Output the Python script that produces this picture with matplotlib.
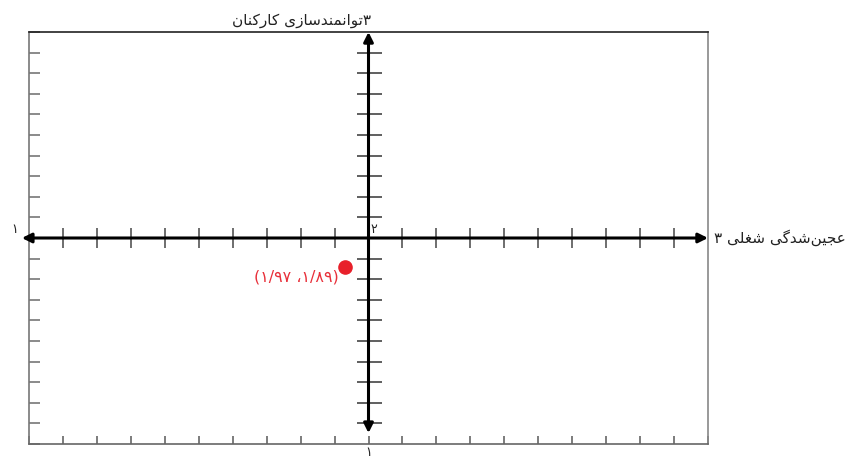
import numpy as np
import matplotlib.pyplot as plt

# data
x_min, x_mid, x_max = 1.0, 2.0, 3.0
y_min, y_mid, y_max = 1.0, 2.0, 3.0
step = 0.1
point_x = [1.93]
point_y = [1.86]
point_label = '(۱/۹۷ ،۱/۸۹)'
x_title = 'عجین‌شدگی شغلی ۳'
y_title = '۳توانمندسازی کارکنان'
left_label = '۱'
bottom_label = '۱'
mid_label = '۲'

# presentation forms: isolated, final, initial, medial
FORMS = {
    'ا': ('\uFE8D', '\uFE8E', None, None),
    'ت': ('\uFE95', '\uFE96', '\uFE97', '\uFE98'),
    'ج': ('\uFE9D', '\uFE9E', '\uFE9F', '\uFEA0'),
    'د': ('\uFEA9', '\uFEAA', None, None),
    'ر': ('\uFEAD', '\uFEAE', None, None),
    'ز': ('\uFEAF', '\uFEB0', None, None),
    'س': ('\uFEB1', '\uFEB2', '\uFEB3', '\uFEB4'),
    'ش': ('\uFEB5', '\uFEB6', '\uFEB7', '\uFEB8'),
    'ع': ('\uFEC9', '\uFECA', '\uFECB', '\uFECC'),
    'غ': ('\uFECD', '\uFECE', '\uFECF', '\uFED0'),
    'ل': ('\uFEDD', '\uFEDE', '\uFEDF', '\uFEE0'),
    'م': ('\uFEE1', '\uFEE2', '\uFEE3', '\uFEE4'),
    'ن': ('\uFEE5', '\uFEE6', '\uFEE7', '\uFEE8'),
    'و': ('\uFEED', '\uFEEE', None, None),
    'ک': ('\uFB8E', '\uFB8F', '\uFB90', '\uFB91'),
    'گ': ('\uFB92', '\uFB93', '\uFB94', '\uFB95'),
    'ی': ('\uFBFC', '\uFBFD', '\uFBFE', '\uFBFF'),
}


def shape(text):
    # join letters and flip to visual order (matplotlib has no bidi)
    out = []
    for i, c in enumerate(text):
        if c not in FORMS:
            out.append(c)
            continue
        prev = text[i - 1] if i > 0 else None
        nxt = text[i + 1] if i < len(text) - 1 else None
        join_prev = prev in FORMS and FORMS[prev][2] is not None
        join_next = FORMS[c][2] is not None and nxt in FORMS
        iso, fin, ini, med = FORMS[c]
        if join_prev and join_next:
            out.append(med)
        elif join_prev:
            out.append(fin)
        elif join_next:
            out.append(ini)
        else:
            out.append(iso)
    return ''.join(ch for ch in reversed(out) if ch != '\u200c')


plt.rcParams['font.family'] = ['DejaVu Sans']

fig = plt.figure(figsize=(8.53, 4.59), dpi=100)
ax = fig.add_axes([29 / 853, 15 / 459, 679 / 853, 412 / 459])
ax.set_xlim(x_min, x_max)
ax.set_ylim(y_min, y_max)

for side, col in [('left', '#777777'), ('bottom', '#666666'),
                  ('right', '#888888'), ('top', '#222222')]:
    ax.spines[side].set_color(col)
    ax.spines[side].set_linewidth(1.2)

xt = np.round(np.arange(x_min, x_max + step / 2, step), 2)
yt = np.round(np.arange(y_min, y_max + step / 2, step), 2)
ax.set_xticks(xt)
ax.set_yticks(yt)
ax.set_xticklabels([])
ax.set_yticklabels([])
ax.tick_params(axis='x', direction='in', length=6, width=1.2, color='#666666',
               bottom=True, top=False)
ax.tick_params(axis='y', direction='in', length=8, width=1.2, color='#777777',
               left=True, right=False)

# middle axes with arrows
ax.annotate('', xy=(x_max, y_mid), xytext=(x_min - 0.021, y_mid),
            arrowprops=dict(arrowstyle='<|-|>', lw=2.2, color='black',
                            mutation_scale=14, shrinkA=0, shrinkB=0),
            annotation_clip=False)
ax.annotate('', xy=(x_mid, y_max), xytext=(x_mid, y_min + 0.053),
            arrowprops=dict(arrowstyle='<|-|>', lw=2.2, color='black',
                            mutation_scale=14, shrinkA=0, shrinkB=0),
            annotation_clip=False)

# ticks across the middle axes
inner_x = xt[(xt > x_min) & (xt < x_max) & (np.abs(xt - x_mid) > 1e-6)]
inner_y = yt[(yt > y_min) & (yt < y_max) & (np.abs(yt - y_mid) > 1e-6)]
ax.plot(inner_x, np.full(len(inner_x), y_mid), ls='none', marker='|',
        ms=15, mew=1.2, color='#555555')
ax.plot(np.full(len(inner_y), x_mid), inner_y, ls='none', marker='_',
        ms=18, mew=1.2, color='#444444')

# point
ax.plot(point_x, point_y, 'o', ms=9.5, color='#e8202a', zorder=5)
ax.annotate(point_label, xy=(point_x[0], point_y[0]), xytext=(-4, -7),
            textcoords='offset points', ha='right', va='center',
            fontsize=11.5, color='#e8303a')

# labels
ax.annotate(shape(x_title), xy=(x_max, y_mid), xytext=(4, 0),
            textcoords='offset points', ha='left', va='center',
            fontsize=11, color='#222222', annotation_clip=False)
ax.annotate(shape(y_title), xy=(x_mid, y_max), xytext=(2, 3),
            textcoords='offset points', ha='right', va='bottom',
            fontsize=11, color='#222222', annotation_clip=False)
ax.annotate(left_label, xy=(x_min, y_mid), xytext=(-10, 6),
            textcoords='offset points', ha='center', va='center',
            fontsize=9, color='#222222', annotation_clip=False)
ax.annotate(bottom_label, xy=(x_mid, y_min), xytext=(0, -6),
            textcoords='offset points', ha='center', va='center',
            fontsize=9, color='#222222', annotation_clip=False)
ax.annotate(mid_label, xy=(x_mid, y_mid), xytext=(3.5, 6),
            textcoords='offset points', ha='center', va='center',
            fontsize=9, color='#222222', annotation_clip=False)

fig.savefig('out.png', dpi=100)
